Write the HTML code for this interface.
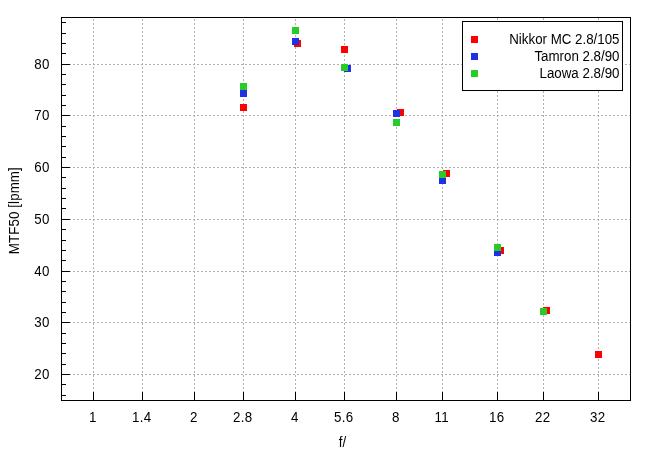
<!DOCTYPE html>
<html><head><meta charset="utf-8"><style>
html,body{margin:0;padding:0;background:#fff;}
svg{display:block;}
text{font-family:"Liberation Sans", Arial, sans-serif;font-size:13.33px;fill:#000;}
</style></head><body>
<div style="will-change:transform;width:655px;height:455px"><svg width="655" height="455" viewBox="0 0 655 455">
<rect x="0" y="0" width="655" height="455" fill="#fff"/>
<line x1="61" y1="374.5" x2="631" y2="374.5" stroke="#b0b0b0" stroke-width="1" stroke-dasharray="2 2"/>
<line x1="61" y1="322.5" x2="631" y2="322.5" stroke="#b0b0b0" stroke-width="1" stroke-dasharray="2 2"/>
<line x1="61" y1="271.5" x2="631" y2="271.5" stroke="#b0b0b0" stroke-width="1" stroke-dasharray="2 2"/>
<line x1="61" y1="219.5" x2="631" y2="219.5" stroke="#b0b0b0" stroke-width="1" stroke-dasharray="2 2"/>
<line x1="61" y1="167.5" x2="631" y2="167.5" stroke="#b0b0b0" stroke-width="1" stroke-dasharray="2 2"/>
<line x1="61" y1="115.5" x2="631" y2="115.5" stroke="#b0b0b0" stroke-width="1" stroke-dasharray="2 2"/>
<line x1="61" y1="64.5" x2="631" y2="64.5" stroke="#b0b0b0" stroke-width="1" stroke-dasharray="2 2"/>
<line x1="93.5" y1="401" x2="93.5" y2="17" stroke="#b0b0b0" stroke-width="1" stroke-dasharray="2 2"/>
<line x1="142.5" y1="401" x2="142.5" y2="17" stroke="#b0b0b0" stroke-width="1" stroke-dasharray="2 2"/>
<line x1="194.5" y1="401" x2="194.5" y2="17" stroke="#b0b0b0" stroke-width="1" stroke-dasharray="2 2"/>
<line x1="243.5" y1="401" x2="243.5" y2="17" stroke="#b0b0b0" stroke-width="1" stroke-dasharray="2 2"/>
<line x1="295.5" y1="401" x2="295.5" y2="17" stroke="#b0b0b0" stroke-width="1" stroke-dasharray="2 2"/>
<line x1="344.5" y1="401" x2="344.5" y2="17" stroke="#b0b0b0" stroke-width="1" stroke-dasharray="2 2"/>
<line x1="396.5" y1="401" x2="396.5" y2="17" stroke="#b0b0b0" stroke-width="1" stroke-dasharray="2 2"/>
<line x1="442.5" y1="401" x2="442.5" y2="17" stroke="#b0b0b0" stroke-width="1" stroke-dasharray="2 2"/>
<line x1="497.5" y1="401" x2="497.5" y2="21" stroke="#b0b0b0" stroke-width="1" stroke-dasharray="2 2"/>
<rect x="497" y="18" width="1" height="2" fill="#b0b0b0"/>
<line x1="543.5" y1="401" x2="543.5" y2="21" stroke="#b0b0b0" stroke-width="1" stroke-dasharray="2 2"/>
<rect x="543" y="18" width="1" height="2" fill="#b0b0b0"/>
<line x1="598.5" y1="401" x2="598.5" y2="21" stroke="#b0b0b0" stroke-width="1" stroke-dasharray="2 2"/>
<rect x="598" y="18" width="1" height="2" fill="#b0b0b0"/>
<rect x="61" y="17" width="570" height="1" fill="#000"/>
<rect x="61" y="400" width="570" height="1" fill="#000"/>
<rect x="61" y="17" width="1" height="384" fill="#000"/>
<rect x="630" y="17" width="1" height="384" fill="#000"/>
<rect x="61" y="395" width="5" height="1" fill="#000"/>
<rect x="61" y="384" width="5" height="1" fill="#000"/>
<rect x="61" y="374" width="9" height="1" fill="#000"/>
<rect x="61" y="364" width="5" height="1" fill="#000"/>
<rect x="61" y="353" width="5" height="1" fill="#000"/>
<rect x="61" y="343" width="5" height="1" fill="#000"/>
<rect x="61" y="333" width="5" height="1" fill="#000"/>
<rect x="61" y="322" width="9" height="1" fill="#000"/>
<rect x="61" y="312" width="5" height="1" fill="#000"/>
<rect x="61" y="302" width="5" height="1" fill="#000"/>
<rect x="61" y="291" width="5" height="1" fill="#000"/>
<rect x="61" y="281" width="5" height="1" fill="#000"/>
<rect x="61" y="271" width="9" height="1" fill="#000"/>
<rect x="61" y="260" width="5" height="1" fill="#000"/>
<rect x="61" y="250" width="5" height="1" fill="#000"/>
<rect x="61" y="240" width="5" height="1" fill="#000"/>
<rect x="61" y="229" width="5" height="1" fill="#000"/>
<rect x="61" y="219" width="9" height="1" fill="#000"/>
<rect x="61" y="208" width="5" height="1" fill="#000"/>
<rect x="61" y="198" width="5" height="1" fill="#000"/>
<rect x="61" y="188" width="5" height="1" fill="#000"/>
<rect x="61" y="177" width="5" height="1" fill="#000"/>
<rect x="61" y="167" width="9" height="1" fill="#000"/>
<rect x="61" y="157" width="5" height="1" fill="#000"/>
<rect x="61" y="146" width="5" height="1" fill="#000"/>
<rect x="61" y="136" width="5" height="1" fill="#000"/>
<rect x="61" y="126" width="5" height="1" fill="#000"/>
<rect x="61" y="115" width="9" height="1" fill="#000"/>
<rect x="61" y="105" width="5" height="1" fill="#000"/>
<rect x="61" y="95" width="5" height="1" fill="#000"/>
<rect x="61" y="84" width="5" height="1" fill="#000"/>
<rect x="61" y="74" width="5" height="1" fill="#000"/>
<rect x="61" y="64" width="9" height="1" fill="#000"/>
<rect x="61" y="53" width="5" height="1" fill="#000"/>
<rect x="61" y="43" width="5" height="1" fill="#000"/>
<rect x="61" y="33" width="5" height="1" fill="#000"/>
<rect x="61" y="22" width="5" height="1" fill="#000"/>
<rect x="93" y="392" width="1" height="9" fill="#000"/>
<rect x="142" y="392" width="1" height="9" fill="#000"/>
<rect x="194" y="392" width="1" height="9" fill="#000"/>
<rect x="243" y="392" width="1" height="9" fill="#000"/>
<rect x="295" y="392" width="1" height="9" fill="#000"/>
<rect x="344" y="392" width="1" height="9" fill="#000"/>
<rect x="396" y="392" width="1" height="9" fill="#000"/>
<rect x="442" y="392" width="1" height="9" fill="#000"/>
<rect x="497" y="392" width="1" height="9" fill="#000"/>
<rect x="543" y="392" width="1" height="9" fill="#000"/>
<rect x="598" y="392" width="1" height="9" fill="#000"/>
<text transform="translate(49.9,379) scale(1,1.06)" text-anchor="end" style="letter-spacing:0.4px">20</text>
<text transform="translate(49.9,327) scale(1,1.06)" text-anchor="end" style="letter-spacing:0.4px">30</text>
<text transform="translate(49.9,276) scale(1,1.06)" text-anchor="end" style="letter-spacing:0.4px">40</text>
<text transform="translate(49.9,224) scale(1,1.06)" text-anchor="end" style="letter-spacing:0.4px">50</text>
<text transform="translate(49.9,172) scale(1,1.06)" text-anchor="end" style="letter-spacing:0.4px">60</text>
<text transform="translate(49.9,120) scale(1,1.06)" text-anchor="end" style="letter-spacing:0.4px">70</text>
<text transform="translate(49.9,69) scale(1,1.06)" text-anchor="end" style="letter-spacing:0.4px">80</text>
<text transform="translate(92.8,422) scale(1,1.06)" text-anchor="middle" style="letter-spacing:0.4px">1</text>
<text transform="translate(141.79999999999998,422) scale(1,1.06)" text-anchor="middle" style="letter-spacing:0.4px">1.4</text>
<text transform="translate(193.79999999999998,422) scale(1,1.06)" text-anchor="middle" style="letter-spacing:0.4px">2</text>
<text transform="translate(242.79999999999998,422) scale(1,1.06)" text-anchor="middle" style="letter-spacing:0.4px">2.8</text>
<text transform="translate(294.8,422) scale(1,1.06)" text-anchor="middle" style="letter-spacing:0.4px">4</text>
<text transform="translate(343.8,422) scale(1,1.06)" text-anchor="middle" style="letter-spacing:0.4px">5.6</text>
<text transform="translate(395.8,422) scale(1,1.06)" text-anchor="middle" style="letter-spacing:0.4px">8</text>
<text transform="translate(441.8,422) scale(1,1.06)" text-anchor="middle" style="letter-spacing:0.4px">11</text>
<text transform="translate(496.8,422) scale(1,1.06)" text-anchor="middle" style="letter-spacing:0.4px">16</text>
<text transform="translate(542.8000000000001,422) scale(1,1.06)" text-anchor="middle" style="letter-spacing:0.4px">22</text>
<text transform="translate(597.8000000000001,422) scale(1,1.06)" text-anchor="middle" style="letter-spacing:0.4px">32</text>
<text transform="translate(342.5,446.5) scale(1,1.06)" text-anchor="middle">f/</text>
<text transform="translate(19,210.65) rotate(-90) scale(1,1.06)" text-anchor="middle" style="letter-spacing:0.1px">MTF50 [lpmm]</text>
<rect x="240" y="104" width="7" height="7" fill="#ff0000"/>
<rect x="294" y="40" width="7" height="7" fill="#ff0000"/>
<rect x="341" y="46" width="7" height="7" fill="#ff0000"/>
<rect x="397" y="109" width="7" height="7" fill="#ff0000"/>
<rect x="443" y="170" width="7" height="7" fill="#ff0000"/>
<rect x="497" y="247" width="7" height="7" fill="#ff0000"/>
<rect x="543" y="307" width="7" height="7" fill="#ff0000"/>
<rect x="595" y="351" width="7" height="7" fill="#ff0000"/>
<rect x="240" y="90" width="7" height="7" fill="#1e32e4"/>
<rect x="292" y="38" width="7" height="7" fill="#1e32e4"/>
<rect x="344" y="65" width="7" height="7" fill="#1e32e4"/>
<rect x="393" y="110" width="7" height="7" fill="#1e32e4"/>
<rect x="439" y="177" width="7" height="7" fill="#1e32e4"/>
<rect x="494" y="249" width="7" height="7" fill="#1e32e4"/>
<rect x="540" y="308" width="7" height="7" fill="#1e32e4"/>
<rect x="240" y="83" width="7" height="7" fill="#28cc28"/>
<rect x="292" y="27" width="7" height="7" fill="#28cc28"/>
<rect x="341" y="64" width="7" height="7" fill="#28cc28"/>
<rect x="393" y="119" width="7" height="7" fill="#28cc28"/>
<rect x="439" y="171" width="7" height="7" fill="#28cc28"/>
<rect x="494" y="244" width="7" height="7" fill="#28cc28"/>
<rect x="540" y="308" width="7" height="7" fill="#28cc28"/>
<rect x="462" y="21" width="161" height="70" fill="#fff"/>
<rect x="462.5" y="21.5" width="160" height="69" fill="none" stroke="#000" stroke-width="1"/>
<rect x="471" y="36" width="7" height="7" fill="#ff0000"/>
<text transform="translate(619.5,44) scale(1,1.06)" text-anchor="end">Nikkor MC 2.8/105</text>
<rect x="471" y="53" width="7" height="7" fill="#1e32e4"/>
<text transform="translate(619.5,61) scale(1,1.06)" text-anchor="end">Tamron 2.8/90</text>
<rect x="471" y="70" width="7" height="7" fill="#28cc28"/>
<text transform="translate(619.5,78) scale(1,1.06)" text-anchor="end">Laowa 2.8/90</text>
</svg></div>
</body></html>
